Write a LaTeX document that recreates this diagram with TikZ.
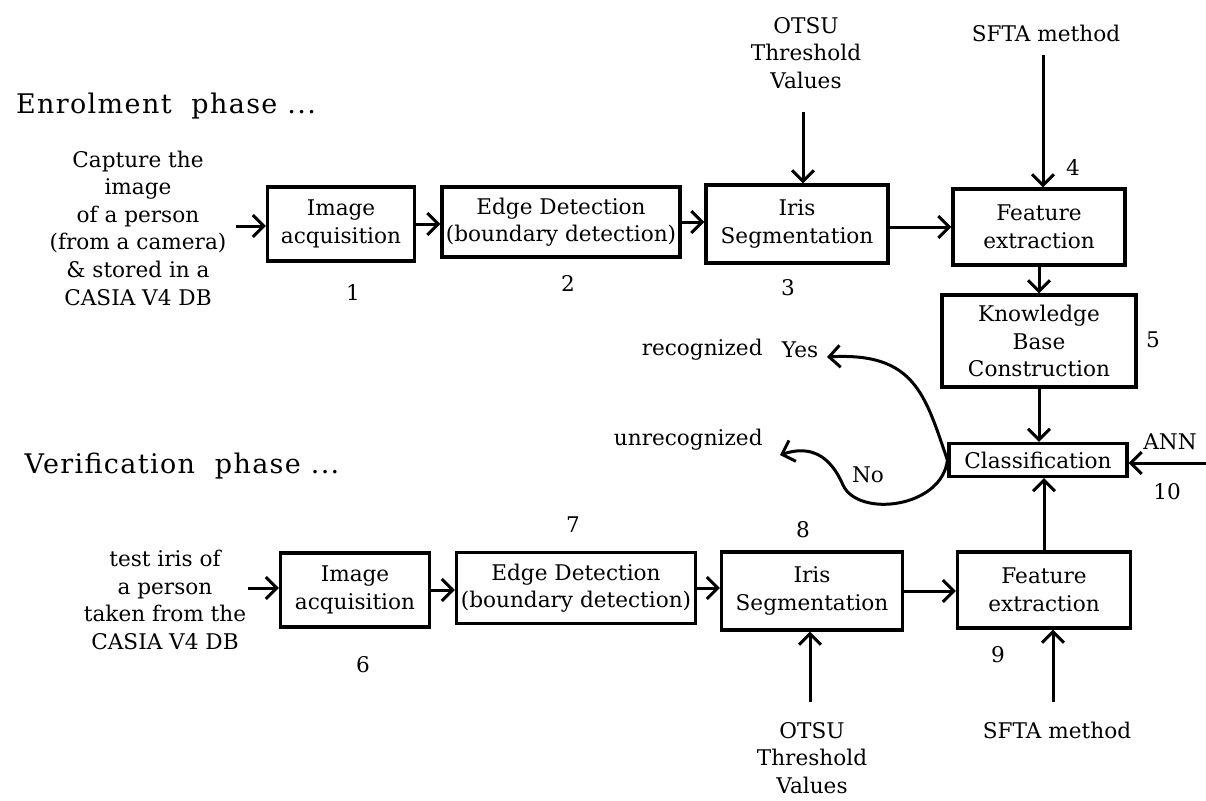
\documentclass[tikz,border=0pt]{standalone}
\usepackage{fontspec}
\setmainfont{DejaVu Serif}
\usepackage{tikz}
\usetikzlibrary{positioning,arrows.meta}

\newcommand{\boxfont}{\fontsize{10.8}{13.8}\selectfont}
\newcommand{\phasefont}{\fontsize{13.5}{16}\selectfont\addfontfeature{LetterSpace=5}}

\begin{document}
\begin{tikzpicture}[x=0.5pt,y=-0.5pt]
\tikzstyle{every node}+=[inner sep=0pt]
\tikzstyle{block}=[draw, line width=1.6pt, align=center, font=\boxfont]
\tikzstyle{lbl}=[align=center, font=\boxfont]
\tikzstyle{arr}=[line width=1.5pt, -{Straight Barb[length=5.5pt,width=11pt]}]
\useasboundingbox (0,0) rectangle (1206,800);
% enrolment phase
\node (enrol) at (166,106) [font=\phasefont] {Enrolment~~phase ...};
\node (capture) at (138,228) [lbl] {Capture the\\image\\of a person\\(from a camera)\\\& stored in a\\CASIA V4 DB};
\node (acq1) at (341,224) [block, minimum width=73.5pt, minimum height=37pt] {Image\\acquisition};
\node (edge1) at (561,222) [block, minimum width=119pt, minimum height=35pt] {Edge Detection\\(boundary detection)};
\node (seg1) at (797,224) [block, minimum width=91pt, minimum height=39pt] {Iris\\Segmentation};
\node (feat1) at (1039,227) [block, minimum width=86pt, minimum height=38pt] {Feature\\extraction};
\node (kb) at (1039,341) [block, minimum width=97pt, minimum height=46pt] {Knowledge\\Base\\Construction};
\node (cls) at (1038,460) [block, minimum width=89pt, minimum height=16.5pt] {Classification};
\node (otsu1) at (806,53) [lbl] {OTSU\\Threshold\\Values};
\node (sfta1) at (1046,33) [lbl] {SFTA method};
\node (ann) at (1170,442) [lbl] {ANN};
\node (n1) at (353,292) [lbl] {1};
\node (n2) at (568,283) [lbl] {2};
\node (n3) at (788,288) [lbl] {3};
\node (n4) at (1073,167) [lbl] {4};
\node (n5) at (1153,340) [lbl] {5};
\node (n10) at (1167,492) [lbl] {10};
\coordinate (c1) at (236,226);
\coordinate (o1) at (803,112);
\coordinate (s1) at (1043,55);
\coordinate (a1) at (1206,463);
\draw [arr] (c1) -- (c1 -| acq1.west);
\draw [arr] (acq1.east) -- (acq1.east -| edge1.west);
\draw [arr] (edge1.east) -- (edge1.east -| seg1.west);
\draw [arr] ([yshift=-1.5pt]seg1.east) -- ([yshift=-1.5pt]seg1.east -| feat1.west);
\draw [arr] (o1) -- (o1 |- seg1.north);
\draw [arr] (s1) -- (s1 |- feat1.north);
\draw [arr] (feat1.south) -- (kb.north);
\draw [arr] (kb.south) -- (kb.south |- cls.north);
\draw [arr] (a1) -- (a1 -| cls.east);
% result
\node (recog) at (763,350) [lbl, anchor=east] {recognized};
\node (yes) at (800,350) [lbl] {Yes};
\node (unrecog) at (763,440) [lbl, anchor=east] {unrecognized};
\node (no) at (868,475) [lbl] {No};
\coordinate (yesend) at (827,357);
\coordinate (noend) at (780,455);
\draw [arr] (cls.west) .. controls (925,395) and (915,352) .. (yesend);
\draw [arr] (cls.west) .. controls (942,508) and (858,518) .. (843,485) .. controls (830,455) and (810,445) .. (noend);
% verification phase
\node (verif) at (182,466) [font=\phasefont] {Verification~~phase ...};
\node (testiris) at (165,600) [lbl] {test iris of\\a person\\taken from the\\CASIA V4 DB};
\node (acq2) at (355,590) [block, minimum width=74.5pt, minimum height=37pt] {Image\\acquisition};
\node (edge2) at (576,588) [block, minimum width=119.5pt, minimum height=35.5pt] {Edge Detection\\(boundary detection)};
\node (seg2) at (812,591) [block, minimum width=90.5pt, minimum height=39pt] {Iris\\Segmentation};
\node (feat2) at (1044,590) [block, minimum width=86.5pt, minimum height=38pt] {Feature\\extraction};
\node (otsu2) at (812,758) [lbl] {OTSU\\Threshold\\Values};
\node (sfta2) at (1057,730) [lbl] {SFTA method};
\node (n6) at (363,665) [lbl] {6};
\node (n7) at (573,525) [lbl] {7};
\node (n8) at (803,530) [lbl] {8};
\node (n9) at (998,655) [lbl] {9};
\coordinate (t1) at (248,588);
\coordinate (o2) at (810,702);
\coordinate (s2) at (1053,702);
\draw [arr] (t1) -- (t1 -| acq2.west);
\draw [arr] (acq2.east) -- (acq2.east -| edge2.west);
\draw [arr] (edge2.east) -- (edge2.east -| seg2.west);
\draw [arr] (seg2.east) -- (seg2.east -| feat2.west);
\draw [arr] (o2) -- (o2 |- seg2.south);
\draw [arr] (s2) -- (s2 |- feat2.south);
\draw [arr] (feat2.north) -- (feat2.north |- cls.south);
\end{tikzpicture}
\end{document}
